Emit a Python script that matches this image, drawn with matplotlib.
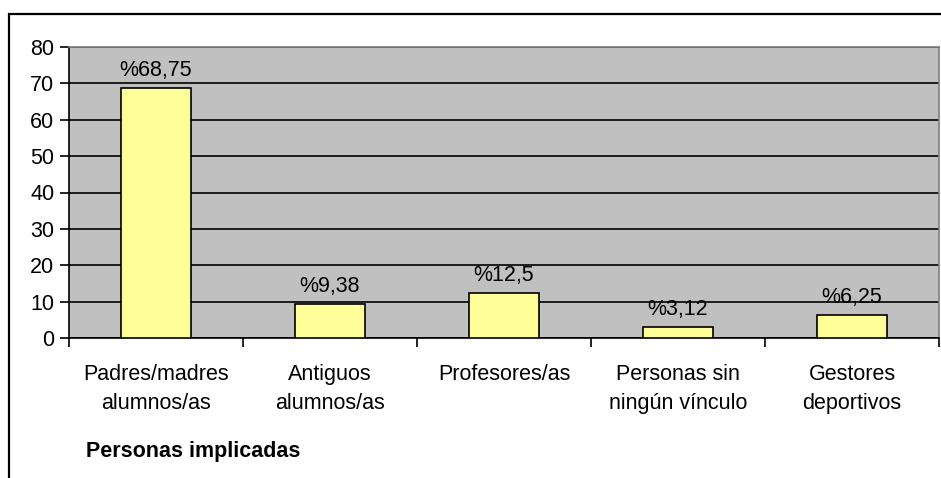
import matplotlib
matplotlib.use('Agg')
import matplotlib.pyplot as plt
from matplotlib.patches import Rectangle

categories = ['Padres/madres\nalumnos/as', 'Antiguos\nalumnos/as',
              'Profesores/as', 'Personas sin\nningún vínculo',
              'Gestores\ndeportivos']
values = [68.75, 9.38, 12.5, 3.12, 6.25]
value_labels = ['%68,75', '%9,38', '%12,5', '%3,12', '%6,25']
y_ticks = [0, 10, 20, 30, 40, 50, 60, 70, 80]

plt.rcParams['font.family'] = ['Liberation Sans', 'DejaVu Sans']
FS = 15.5

W, H = 941, 478
fig = plt.figure(figsize=(W / 100, H / 100), dpi=100)

# outer chart frame (runs off the right and bottom edges)
fig.patches.append(Rectangle((9 / W, -0.1), 1.2, 1 - 14 / H + 0.1,
                             transform=fig.transFigure, fill=False,
                             ec='black', lw=1.6))

ax = fig.add_axes([69 / W, 1 - 338 / H, 870 / W, 291 / H])
ax.set_facecolor('#C0C0C0')

x = range(len(values))
ax.bar(x, values, width=0.4, color='#FFFF99', edgecolor='black',
       linewidth=1.2, zorder=3)

for xi, v, lab in zip(x, values, value_labels):
    ax.annotate(lab, (xi, v), xytext=(0, 5), textcoords='offset points',
                ha='center', va='bottom', fontsize=FS, zorder=4)

ax.set_xlim(-0.5, len(values) - 0.5)
ax.set_ylim(0, 80)
ax.set_yticks(y_ticks)
ax.yaxis.grid(True, color='black', lw=1.2, zorder=1)
ax.tick_params(axis='y', length=6.5, width=1.2, direction='out',
               labelsize=FS, pad=4)

# category ticks sit at the boundaries
ax.set_xticks([i - 0.5 for i in range(len(values) + 1)])
ax.set_xticklabels([])
ax.tick_params(axis='x', length=6.5, width=1.2, direction='out')
for xi, cat in zip(x, categories):
    ax.annotate(cat, (xi, 0), xytext=(0, -19), textcoords='offset points',
                ha='center', va='top', fontsize=FS, linespacing=1.5)

for side in ['top', 'right']:
    ax.spines[side].set_color('#808080')
    ax.spines[side].set_linewidth(1.2)
for side in ['left', 'bottom']:
    ax.spines[side].set_color('black')
    ax.spines[side].set_linewidth(1.2)

fig.text(86 / W, 1 - 452 / H, 'Personas implicadas', fontsize=FS,
         fontweight='bold', ha='left', va='center')

fig.savefig('out.png', dpi=100)
